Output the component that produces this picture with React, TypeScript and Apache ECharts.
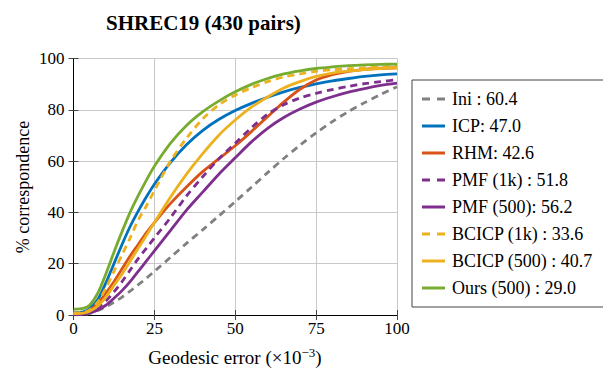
import React, { useEffect, useRef } from "react";
import * as echarts from "echarts";

const xValues = [0, 3, 5, 7.5, 10, 12.5, 15, 17.5, 20, 22.5, 25, 30, 35, 40, 45, 50, 55, 60, 65, 70, 75, 80, 85, 90, 95, 100];

const iniValues = [0, 0.2, 0.6, 1.8, 3.2, 5.0, 7.0, 9.3, 11.8, 14.3, 17.0, 22.5, 28.0, 33.3, 38.7, 44.2, 49.8, 55.5, 61.0, 66.2, 71.0, 75.4, 79.3, 82.8, 86.0, 89.0];
const icpValues = [0.9, 1.2, 2.5, 6.0, 12.5, 20.0, 27.5, 34.5, 40.5, 46.0, 51.0, 59.5, 66.5, 72.0, 76.3, 79.7, 82.5, 84.9, 87.0, 88.7, 90.1, 91.3, 92.2, 93.0, 93.6, 94.0];
const rhmValues = [0.5, 0.7, 1.8, 4.5, 8.5, 13.0, 18.0, 23.0, 27.5, 32.0, 36.0, 43.5, 50.0, 56.0, 61.0, 66.0, 71.5, 77.3, 83.0, 88.0, 91.6, 93.7, 95.0, 95.8, 96.2, 96.4];
const pmf1kValues = [0.3, 0.5, 1.2, 3.0, 5.5, 9.0, 13.0, 17.5, 22.0, 26.0, 30.0, 38.0, 46.5, 54.0, 61.0, 67.0, 73.0, 78.3, 82.0, 84.6, 86.4, 87.9, 89.1, 90.2, 91.0, 91.7];
const pmf500Values = [0.2, 0.3, 0.8, 2.0, 3.8, 6.5, 9.5, 13.0, 17.0, 21.0, 25.0, 33.0, 41.0, 48.0, 55.0, 61.3, 67.5, 72.8, 77.0, 80.3, 83.0, 85.1, 86.9, 88.3, 89.5, 90.4];
const bcicp1kValues = [0.8, 1.0, 2.0, 5.0, 10.5, 17.0, 23.5, 30.0, 37.0, 42.5, 48.5, 60.0, 69.0, 76.5, 82.0, 85.7, 88.6, 91.0, 92.8, 94.0, 95.0, 95.6, 96.0, 96.4, 96.7, 97.0];
const bcicp500Values = [0.5, 0.7, 1.5, 3.5, 7.0, 11.5, 16.0, 21.0, 26.0, 31.0, 36.0, 46.0, 55.0, 63.0, 70.2, 76.0, 81.0, 85.0, 88.5, 91.0, 93.0, 94.3, 95.1, 95.7, 96.1, 96.4];
const oursValues = [2.3, 2.6, 3.8, 8.5, 16.0, 24.5, 32.5, 40.0, 46.5, 52.5, 58.0, 67.0, 74.0, 79.3, 83.5, 87.0, 89.9, 92.2, 94.0, 95.2, 96.1, 96.7, 97.2, 97.5, 97.7, 97.8];

const seriesNames = [
  "Ini : 60.4",
  "ICP: 47.0",
  "RHM: 42.6",
  "PMF (1k) : 51.8",
  "PMF (500): 56.2",
  "BCICP (1k) : 33.6",
  "BCICP (500) : 40.7",
  "Ours (500) : 29.0",
];
const seriesValues = [iniValues, icpValues, rhmValues, pmf1kValues, pmf500Values, bcicp1kValues, bcicp500Values, oursValues];
const seriesColors = ["#808080", "#0072BD", "#D95319", "#7E2F8E", "#7E2F8E", "#EDB120", "#EDB120", "#77AC30"];
const seriesDashed = [true, false, false, true, false, true, false, false];

const xTicks = { min: 0, max: 100, interval: 25 };
const yTicks = { min: 0, max: 100, interval: 20 };

const FONT = "Liberation Serif";
const DASH_ICON = "path://M0,0h8v3h-8z M15,0h8v3h-8z";
const SOLID_ICON = "path://M0,0h23v3h-23z";

export default function App() {
  const ref = useRef<HTMLDivElement>(null);
  useEffect(() => {
    document.body.style.margin = "0";
    const chart = echarts.init(ref.current!, null, { renderer: "svg" });
    const tickStyle = { show: true, inside: true, length: 5, lineStyle: { color: "#444", width: 1 } };
    const axisLine = { show: true, lineStyle: { color: "#000", width: 1 } };
    chart.setOption({
      animation: false,
      backgroundColor: "#fff",
      title: {
        text: "SHREC19 (430 pairs)",
        left: 101,
        top: 7,
        textStyle: { fontFamily: FONT, fontSize: 21, fontWeight: "bold", color: "#000" },
      },
      grid: { left: 73.5, right: 206, top: 58.5, bottom: 55, containLabel: false },
      legend: {
        orient: "vertical",
        left: 412,
        top: 80,
        padding: [10, 14, 10, 10],
        itemWidth: 23,
        itemHeight: 3,
        itemGap: 9,
        borderColor: "#444",
        borderWidth: 1,
        textStyle: { fontFamily: FONT, fontSize: 18, color: "#000", padding: [0, 0, 0, 2] },
        data: seriesNames.map((name, i) => ({
          name,
          icon: seriesDashed[i] ? DASH_ICON : SOLID_ICON,
          itemStyle: { color: seriesColors[i] },
        })),
      },
      graphic: [
        {
          type: "text",
          x: 235,
          y: 357,
          style: {
            text: "Geodesic error (×10{sup|−3})",
            font: `19px "${FONT}"`,
            fill: "#000",
            align: "center",
            verticalAlign: "middle",
            rich: {
              sup: { fontFamily: FONT, fontSize: 13, fill: "#000", padding: [0, 0, 9, 0] },
            },
          },
        },
        {
          type: "text",
          x: 23,
          y: 187,
          rotation: Math.PI / 2,
          style: {
            text: "% correspondence",
            font: `18px "${FONT}"`,
            fill: "#000",
            align: "center",
            verticalAlign: "middle",
          },
        },
      ],
      xAxis: [
        {
          type: "value",
          position: "bottom",
          ...xTicks,
          axisLine,
          axisTick: tickStyle,
          axisLabel: { fontFamily: FONT, fontSize: 17, color: "#000", margin: 5 },
          splitLine: { show: true, lineStyle: { color: "#c8c8c8", width: 1 } },
        },
        {
          type: "value",
          position: "top",
          ...xTicks,
          axisLine,
          axisTick: tickStyle,
          axisLabel: { show: false },
          splitLine: { show: false },
        },
      ],
      yAxis: [
        {
          type: "value",
          position: "left",
          ...yTicks,
          axisLine,
          axisTick: tickStyle,
          axisLabel: { fontFamily: FONT, fontSize: 17, color: "#000", margin: 9 },
          splitLine: { show: true, lineStyle: { color: "#c8c8c8", width: 1 } },
        },
        {
          type: "value",
          position: "right",
          ...yTicks,
          axisLine,
          axisTick: tickStyle,
          axisLabel: { show: false },
          splitLine: { show: false },
        },
      ],
      series: seriesNames.map((name, i) => ({
        name,
        type: "line",
        xAxisIndex: 0,
        yAxisIndex: 0,
        data: xValues.map((x, j) => [x, seriesValues[i][j]]),
        symbol: "none",
        showSymbol: false,
        smooth: 0.3,
        lineStyle: {
          color: seriesColors[i],
          width: 2.8,
          type: seriesDashed[i] ? [7, 5] : "solid",
        },
        itemStyle: { color: seriesColors[i] },
        z: 2 + i,
      })),
    });
    return () => chart.dispose();
  }, []);
  return <div ref={ref} style={{ width: 603, height: 370 }} />;
}
